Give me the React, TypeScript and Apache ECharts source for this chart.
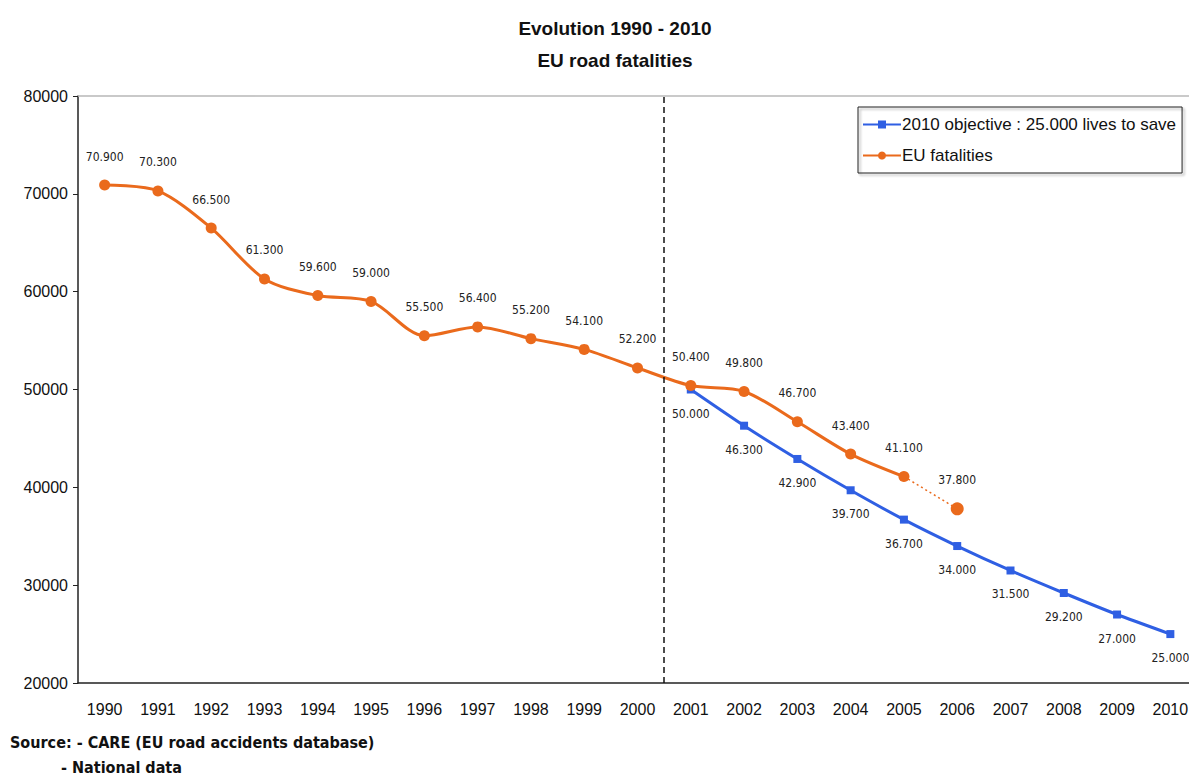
import React, { useEffect, useRef } from "react";
import * as echarts from "echarts";

const years = ["1990","1991","1992","1993","1994","1995","1996","1997","1998","1999","2000","2001","2002","2003","2004","2005","2006","2007","2008","2009","2010"];
// EU fatalities 1990-2005 (solid)
const fatalities = [70900, 70300, 66500, 61300, 59600, 59000, 55500, 56400, 55200, 54100, 52200, 50400, 49800, 46700, 43400, 41100, null, null, null, null, null];
// 2005-2006 provisional (dotted)
const fatalitiesProvisional = [null, null, null, null, null, null, null, null, null, null, null, null, null, null, null, 41100, 37800, null, null, null, null];
// 2010 objective
const objective = [null, null, null, null, null, null, null, null, null, null, null, 50000, 46300, 42900, 39700, 36700, 34000, 31500, 29200, 27000, 25000];
const yTicks = [20000, 30000, 40000, 50000, 60000, 70000, 80000];

const fmt = (v: number) => {
  const s = String(v);
  return s.length > 3 ? s.slice(0, s.length - 3) + "." + s.slice(-3) : s;
};

const ORANGE = "#ea6a1c";
const BLUE = "#2f5fe3";
const FONT = "'Liberation Sans Narrow', 'DejaVu Sans Condensed', 'Liberation Sans', Arial, sans-serif";
const FONT_STD = "'Liberation Sans', Arial, sans-serif";

export default function App() {
  const ref = useRef<HTMLDivElement>(null);
  useEffect(() => {
    if (!ref.current) return;
    document.body.style.margin = "0";
    document.body.style.overflow = "hidden";
    const chart = echarts.init(ref.current, undefined, { renderer: "svg" });
    chart.setOption({
      animation: false,
      backgroundColor: "#fff",
      title: {
        text: "Evolution 1990 - 2010\nEU road fatalities",
        left: 610,
        top: 7,
        textAlign: "center",
        textStyle: { fontFamily: FONT_STD, fontSize: 19, fontWeight: "bold", color: "#111", lineHeight: 32 },
      },
      legend: {
        orient: "vertical",
        left: 858,
        top: 107,
        padding: [9, 6, 9, 4],
        itemGap: 14,
        itemWidth: 38,
        itemHeight: 10,
        borderColor: "#222",
        borderWidth: 1,
        shadowColor: "rgba(0,0,0,0.35)",
        shadowOffsetX: 2,
        shadowOffsetY: 2,
        shadowBlur: 2,
        data: ["2010 objective : 25.000 lives to save", "EU fatalities"],
        textStyle: { fontFamily: FONT_STD, fontSize: 17, color: "#111", padding: [0, 0, 0, -4] },
      },
      grid: { left: 78, right: 0, top: 96, bottom: 93, containLabel: false, outerBoundsMode: "none" },
      xAxis: [
        {
          type: "category",
          data: years,
          boundaryGap: true,
          axisLine: { lineStyle: { color: "#222", width: 1.5 } },
          axisTick: { show: false },
          axisLabel: { fontFamily: FONT_STD, fontSize: 16, color: "#111", margin: 18, interval: 0 },
        },
        {
          type: "value",
          min: -0.5,
          max: 20.5,
          position: "top",
          show: true,
          axisLine: { show: true, onZero: false, lineStyle: { color: "#b8b8b8", width: 1.5 } },
          axisTick: { show: false },
          axisLabel: { show: false },
          splitLine: { show: false },
        },
      ],
      yAxis: {
        type: "value",
        min: 20000,
        max: 80000,
        interval: 10000,
        axisLine: { show: true, onZero: false, lineStyle: { color: "#222", width: 1.5 } },
        axisTick: { show: true, length: 5, lineStyle: { color: "#222" } },
        splitLine: { show: false },
        axisLabel: {
          fontFamily: FONT_STD,
          fontSize: 16,
          color: "#111",
          margin: 10,
          formatter: (v: number) => (yTicks.includes(v) ? String(v) : ""),
        },
      },
      series: [
        {
          name: "2010 objective : 25.000 lives to save",
          type: "line",
          data: objective,
          smooth: 0.2,
          symbol: "rect",
          symbolSize: 8,
          lineStyle: { color: BLUE, width: 3 },
          itemStyle: { color: BLUE },
          label: {
            show: true,
            position: "bottom",
            distance: 14,
            fontFamily: FONT,
            fontSize: 12,
            color: "#222",
            formatter: (p: any) => fmt(p.value),
          },
          z: 3,
        },
        {
          name: "EU fatalities",
          type: "line",
          data: fatalities,
          smooth: 0.3,
          symbol: "circle",
          symbolSize: 11,
          lineStyle: { color: ORANGE, width: 3 },
          itemStyle: { color: ORANGE },
          label: {
            show: true,
            position: "top",
            distance: 17,
            fontFamily: FONT,
            fontSize: 12,
            color: "#222",
            formatter: (p: any) => fmt(p.value),
          },
          z: 4,
        },
        {
          name: "EU fatalities (provisional)",
          type: "line",
          data: fatalitiesProvisional.map((v, i) =>
            v === null ? null : { value: v, symbolSize: i === 16 ? 13 : 0, label: { show: i === 16 } }
          ),
          symbol: "circle",
          lineStyle: { color: ORANGE, width: 1.5, type: [2, 3] },
          itemStyle: { color: ORANGE },
          label: {
            show: false,
            position: "top",
            distance: 16,
            fontFamily: FONT,
            fontSize: 12,
            color: "#222",
            formatter: (p: any) => fmt(p.value),
          },
          z: 4,
        },
        {
          name: "divider",
          type: "line",
          xAxisIndex: 1,
          data: [],
          markLine: {
            silent: true,
            symbol: ["none", "none"],
            label: { show: false },
            lineStyle: { color: "#111", width: 1.5, type: [6, 4] },
            data: [{ xAxis: 10.5 }],
          },
        },
      ],
      graphic: [
        {
          type: "text",
          left: 10,
          top: 734,
          style: {
            text: "Source: - CARE (EU road accidents database)",
            fontFamily: FONT,
            fontSize: 16,
            fontWeight: "bold",
            fill: "#111",
          },
        },
        {
          type: "text",
          left: 61,
          top: 759,
          style: {
            text: "- National data",
            fontFamily: FONT,
            fontSize: 16,
            fontWeight: "bold",
            fill: "#111",
          },
        },
      ],
    });
    return () => chart.dispose();
  }, []);
  return (
    <div style={{ width: 1189, height: 776, overflow: "hidden" }}>
      <div ref={ref} style={{ width: 1197, height: 776 }} />
    </div>
  );
}
